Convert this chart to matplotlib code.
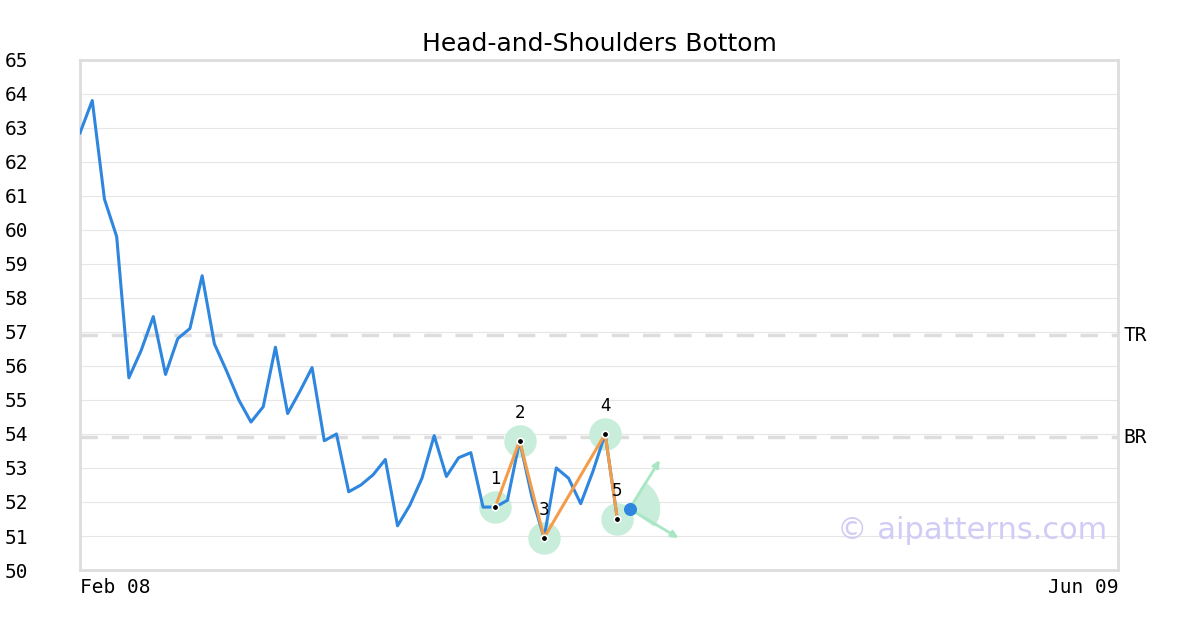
import matplotlib
matplotlib.use("Agg")
import matplotlib.pyplot as plt
import numpy as np
from matplotlib.patches import Wedge
from matplotlib.transforms import IdentityTransform

prices = [62.85,63.8,60.9,59.8,55.65,56.45,57.45,55.75,56.8,57.1,58.65,56.65,55.85,55.0,54.35,54.8,
          56.55,54.6,55.25,55.95,53.8,54.0,52.3,52.5,52.8,53.25,51.3,51.9,52.7,53.95,52.75,53.3,53.45,
          51.85,51.85,52.05,53.8,52.15,50.95,53.0,52.7,51.95,52.9,54.0,51.5]
pat_idx = [34,36,38,43,44]
pat_labels = ["1","2","3","4","5"]
tr, br = 56.9, 53.9
last_val = 51.8
x_ticklabels = ["Feb 08","Jun 09"]
n_total = 85

fig = plt.figure(figsize=(12,6.3), dpi=100)
ax = fig.add_axes([0.0667,0.0952,0.865,0.81])
x = np.arange(len(prices))
ax.set_xlim(0,n_total); ax.set_ylim(50,65)
for y in range(51,65):
    ax.axhline(y,color="#e6e6e6",lw=0.8,zorder=0)
ax.axhline(tr,color="#dddddd",lw=2.5,ls=(0,(5,4)),zorder=1)
ax.axhline(br,color="#dddddd",lw=2.5,ls=(0,(5,4)),zorder=1)
ax.text(1.005,(tr-50)/15,"TR",transform=ax.transAxes,va="center",fontsize=14,family="DejaVu Sans Mono")
ax.text(1.005,(br-50)/15,"BR",transform=ax.transAxes,va="center",fontsize=14,family="DejaVu Sans Mono")
ax.plot(x,prices,color="#2e86de",lw=2.2,zorder=3)
px=[x[i] for i in pat_idx]; py=[prices[i] for i in pat_idx]
ax.plot(px,py,color="#f39c4a",lw=2.2,zorder=4)
ax.scatter(px,py,s=500,color="#c8eedb",zorder=2)
ax.scatter(px,py,s=22,color="black",edgecolor="white",lw=1.2,zorder=5)
for i,(a,b,l) in enumerate(zip(px,py,pat_labels)):
    ax.text(a,b+0.55,l,ha="center",va="bottom",fontsize=12,zorder=6)
lx = len(prices)
cx, cy = ax.transData.transform((lx,last_val))
ax.add_patch(Wedge((cx,cy),30,-35,60,color="#c8eedb",zorder=2,transform=IdentityTransform()))
ax.annotate("",xy=(lx+2.6,53.3),xytext=(lx,last_val),arrowprops=dict(arrowstyle="-|>",color="#a8e6c4",lw=2),zorder=3)
ax.annotate("",xy=(lx+4.2,50.9),xytext=(lx,last_val),arrowprops=dict(arrowstyle="-|>",color="#a8e6c4",lw=2),zorder=3)
ax.scatter([lx],[last_val],s=70,color="#2e86de",zorder=6)
ax.text(0.99,0.05,"© aipatterns.com",transform=ax.transAxes,ha="right",va="bottom",fontsize=22,color="#d0ccf5")
ax.set_yticks(range(50,66))
ax.set_yticklabels([str(v) for v in range(50,66)],family="DejaVu Sans Mono",fontsize=14)
for t in ax.get_yticklabels(): t.set_ha("left")
ax.tick_params(axis="y",length=0,pad=54)
ax.set_xticks([0,n_total])
ax.set_xticklabels(x_ticklabels,family="DejaVu Sans Mono",fontsize=14)
ax.get_xticklabels()[0].set_ha("left"); ax.get_xticklabels()[1].set_ha("right")
ax.tick_params(axis="x",length=0,pad=6)
for s in ax.spines.values(): s.set_color("#dddddd"); s.set_linewidth(2)
ax.set_title("Head-and-Shoulders Bottom",fontsize=18,pad=6)
fig.savefig("out.png")
